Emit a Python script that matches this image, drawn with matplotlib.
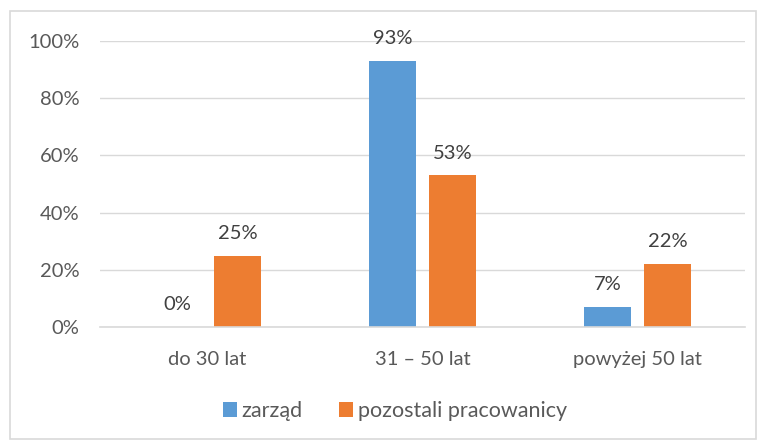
import numpy as np
from matplotlib import pyplot as plt
from matplotlib.patches import Rectangle

# dane
kategorie = ["do 30 lat", "31 – 50 lat", "powyżej 50 lat"]
zarzad = [0, 93, 7]
pozostali = [25, 53, 22]
serie = ["zarząd", "pozostali pracowanicy"]

plt.rcParams["font.family"] = ["Lato", "DejaVu Sans"]
szary = "#595959"

fig = plt.figure(figsize=(7.57, 4.41), dpi=100)
ax = fig.add_axes([100 / 757, 1 - 327 / 441, 645 / 757, 286 / 441])

x = np.arange(len(kategorie))
w = 0.22
b1 = ax.bar(x - 0.14, np.array(zarzad) / 100, w, color="#5B9BD5", label=serie[0], zorder=3)
b2 = ax.bar(x + 0.14, np.array(pozostali) / 100, w, color="#ED7D31", label=serie[1], zorder=3)

# etykiety danych
for bars, vals in ((b1, zarzad), (b2, pozostali)):
    for r, v in zip(bars, vals):
        ax.annotate(f"{v}%", (r.get_x() + r.get_width() / 2, r.get_height()),
                    xytext=(0, 10), textcoords="offset points",
                    ha="center", va="bottom", fontsize=14.5, color="#404040")

ax.set_xlim(-0.5, 2.5)
ax.set_ylim(0, 1)
ax.set_yticks(np.arange(0, 1.01, 0.2))
ax.set_yticklabels([f"{int(round(t * 100))}%" for t in np.arange(0, 1.01, 0.2)])
ax.set_xticks(x)
ax.set_xticklabels(kategorie)
ax.tick_params(axis="both", length=0, labelsize=14.5, colors=szary)
ax.tick_params(axis="y", pad=15)
ax.tick_params(axis="x", pad=17)
ax.grid(axis="y", color="#D9D9D9", linewidth=1, zorder=0)
for s in ["top", "right", "left"]:
    ax.spines[s].set_visible(False)
ax.spines["bottom"].set_color("#D9D9D9")
ax.spines["bottom"].set_linewidth(1.2)
ax.spines["bottom"].set_zorder(4)

fig.legend(handles=[b1, b2], loc="center", bbox_to_anchor=(395 / 757, 1 - 411 / 441),
           ncol=2, frameon=False, fontsize=15.5, labelcolor=szary,
           handlelength=0.65, handleheight=0.65, handletextpad=0.2, columnspacing=1.7)

# ramka wykresu
fig.patches.append(Rectangle((10 / 757, 2 / 441), 746 / 757, 428 / 441, transform=fig.transFigure,
                             fill=False, edgecolor="#D9D9D9", linewidth=1.2))

fig.savefig("out.png")
